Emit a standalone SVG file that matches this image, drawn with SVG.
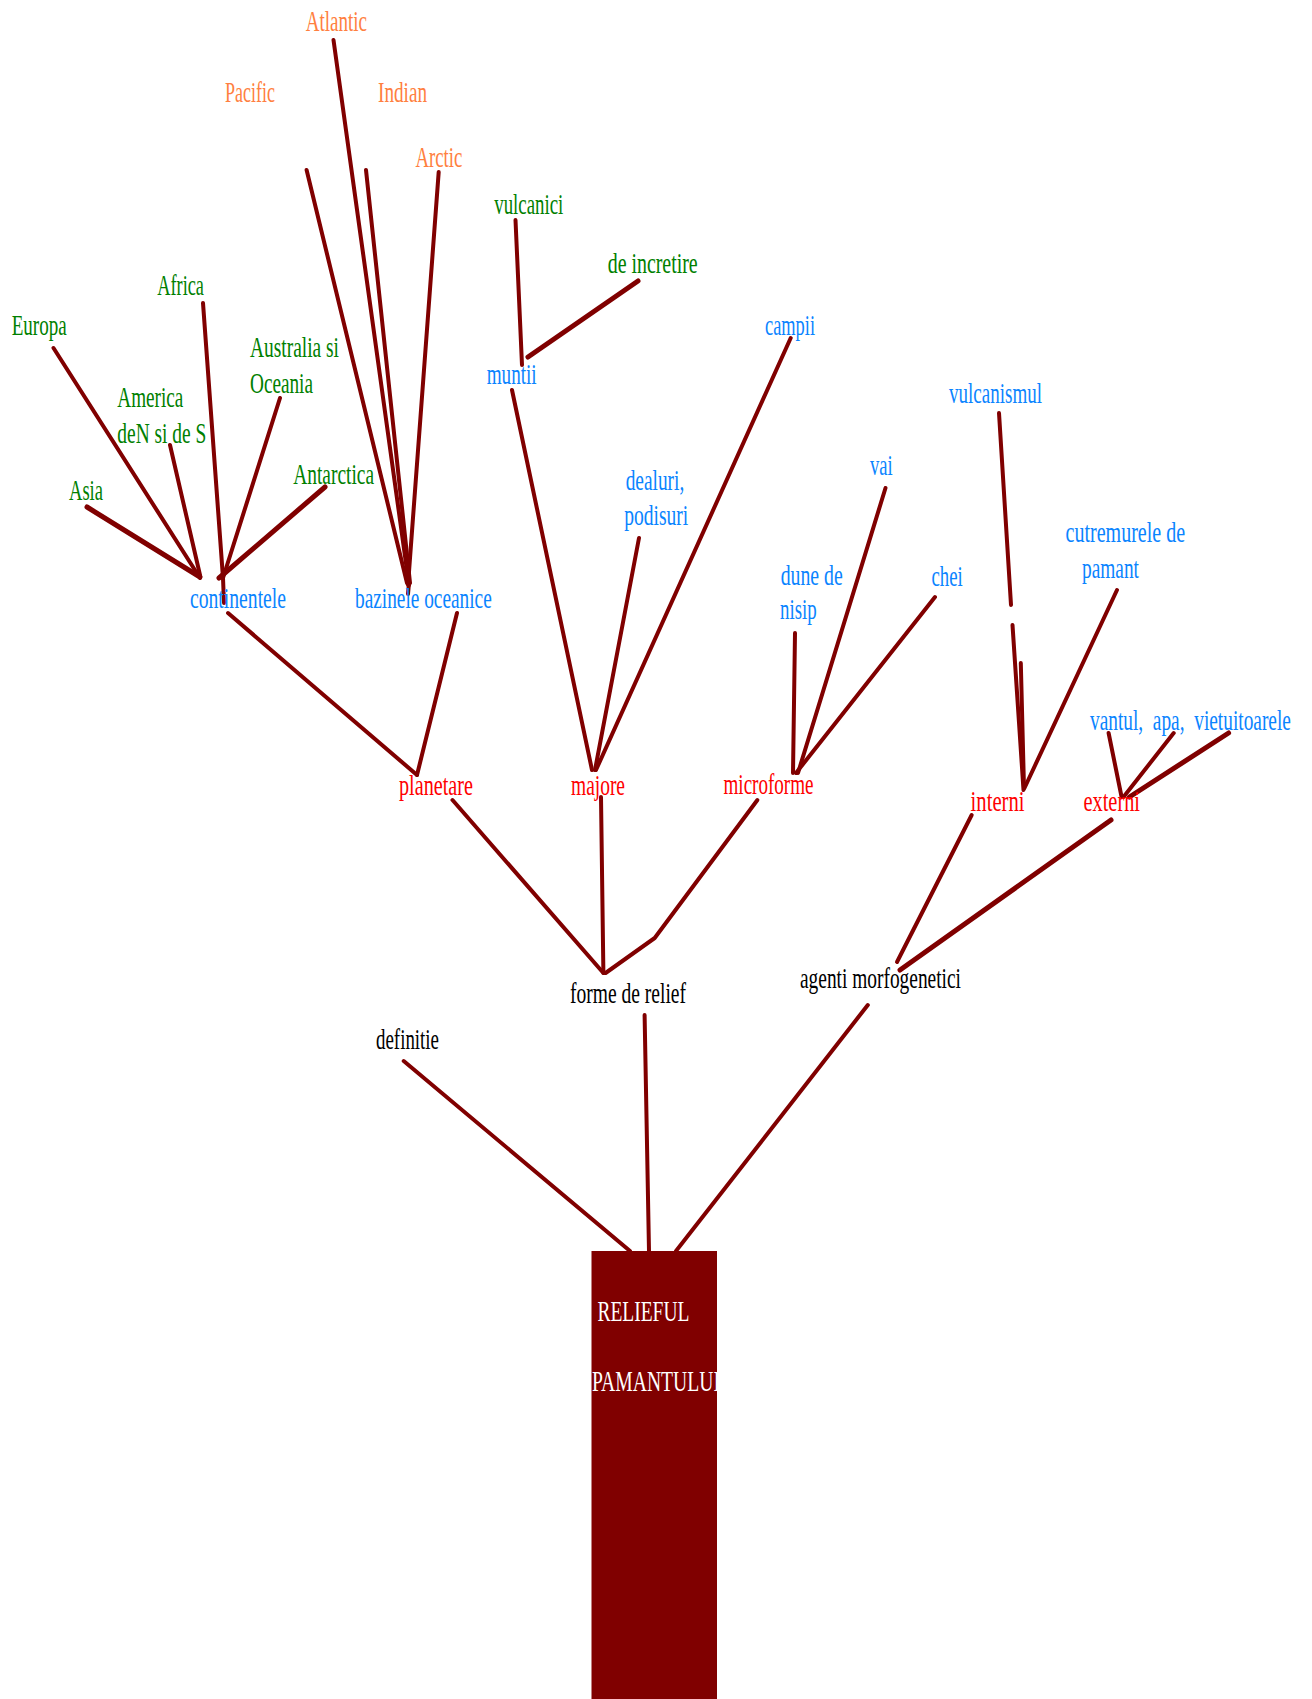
<svg xmlns="http://www.w3.org/2000/svg" width="1312" height="1699" viewBox="0 0 1312 1699">
<style>
text{font-family:"Liberation Serif","Times New Roman",serif;font-size:30px}
.o{fill:#FF7F40}.g{fill:#008000}.b{fill:#0A84FF}.r{fill:#FF0000}.k{fill:#000}.w{fill:#FFF}
.c path{fill:none;stroke:#800000;stroke-width:4;stroke-linecap:round;stroke-linejoin:round}
.c path.t{stroke-width:5}
</style>
<rect width="1312" height="1699" fill="#FFF"/>
<g id="connectors" class="c">
<path d="M333.5,40 L409,585"/>
<path d="M306.6,170 L407,583"/>
<path d="M366,170 L410,583"/>
<path d="M438.7,172 L408,585"/>
<path d="M409,583 L408,594"/>
<path d="M515.5,220 L522,365"/>
<path class="t" d="M638,281 L528,357"/>
<path d="M53.5,348 L200,578"/>
<path class="t" d="M87,507 L200,577"/>
<path d="M170,445 L200,575"/>
<path d="M203,303 L223,578"/>
<path d="M280,398 L223,578"/>
<path class="t" d="M325,487 L219,578"/>
<path d="M223,578 L224,603"/>
<path d="M228,613 L417,775"/>
<path d="M457,613 L417,775"/>
<path d="M512,390 L592,770"/>
<path d="M639,538 L595,770"/>
<path d="M790.7,338 L596,770"/>
<path d="M795,633 L793,773"/>
<path d="M885.5,488 L798,773"/>
<path d="M935,597 L796,773"/>
<path d="M999,413 L1011,605"/>
<path d="M1012.5,625 L1023.5,790"/>
<path d="M1020.8,663 L1024,788"/>
<path d="M1117,590 L1024.5,788"/>
<path d="M1108.6,733 L1121.6,797"/>
<path d="M1173.7,733 L1123.5,797"/>
<path class="t" d="M1228.6,733 L1129.4,797"/>
<path d="M452.5,800 L603.4,973"/>
<path d="M601,797 L603.4,973"/>
<path d="M757.4,800 L654.7,938 L605.6,973"/>
<path d="M971.7,815 L897,962"/>
<path class="t" d="M1111,820 L900,970"/>
<path d="M403.7,1061 L630,1251"/>
<path d="M644.6,1015 L649,1251"/>
<path d="M867.8,1005 L676,1251"/>
</g>
<g id="root">
<rect x="591.5" y="1251" width="125.5" height="448" fill="#800000"/>
<text class="w" x="597.4" y="1321" textLength="92" lengthAdjust="spacingAndGlyphs">RELIEFUL</text>
<text class="w" x="592" y="1391" textLength="128" lengthAdjust="spacingAndGlyphs">PAMANTULUI</text>
</g>
<g id="definitie"><text class="k" x="376" y="1049" textLength="63" lengthAdjust="spacingAndGlyphs">definitie</text></g>
<g id="forme"><text class="k" x="570" y="1003" textLength="116" lengthAdjust="spacingAndGlyphs">forme de relief</text></g>
<g id="agenti"><text class="k" x="800" y="988" textLength="161" lengthAdjust="spacingAndGlyphs">agenti morfogenetici</text></g>
<g id="planetare"><text class="r" x="399" y="795" textLength="74" lengthAdjust="spacingAndGlyphs">planetare</text></g>
<g id="majore"><text class="r" x="571" y="795" textLength="54" lengthAdjust="spacingAndGlyphs">majore</text></g>
<g id="microforme"><text class="r" x="723.5" y="794" textLength="90" lengthAdjust="spacingAndGlyphs">microforme</text></g>
<g id="interni"><text class="r" x="970.6" y="810.7" textLength="54" lengthAdjust="spacingAndGlyphs">interni</text></g>
<g id="externi"><text class="r" x="1083.5" y="810.7" textLength="56.5" lengthAdjust="spacingAndGlyphs">externi</text></g>
<g id="continentele"><text class="b" x="190" y="608" textLength="96" lengthAdjust="spacingAndGlyphs">continentele</text></g>
<g id="bazinele"><text class="b" x="355" y="608" textLength="136.7" lengthAdjust="spacingAndGlyphs">bazinele oceanice</text></g>
<g id="muntii"><text class="b" x="486.7" y="384" textLength="50" lengthAdjust="spacingAndGlyphs">muntii</text></g>
<g id="dealuri"><text class="b" x="625.7" y="490" textLength="58.6" lengthAdjust="spacingAndGlyphs">dealuri,</text><text class="b" x="624.3" y="525" textLength="64" lengthAdjust="spacingAndGlyphs">podisuri</text></g>
<g id="campii"><text class="b" x="765" y="335" textLength="50" lengthAdjust="spacingAndGlyphs">campii</text></g>
<g id="dune"><text class="b" x="780.7" y="585" textLength="62" lengthAdjust="spacingAndGlyphs">dune de</text><text class="b" x="780" y="619.3" textLength="36.7" lengthAdjust="spacingAndGlyphs">nisip</text></g>
<g id="vai"><text class="b" x="870" y="475" textLength="22.7" lengthAdjust="spacingAndGlyphs">vai</text></g>
<g id="chei"><text class="b" x="931.4" y="586" textLength="31.3" lengthAdjust="spacingAndGlyphs">chei</text></g>
<g id="vulcanismul"><text class="b" x="949" y="403.3" textLength="93" lengthAdjust="spacingAndGlyphs">vulcanismul</text></g>
<g id="cutremurele"><text class="b" x="1065.5" y="541.7" textLength="119.6" lengthAdjust="spacingAndGlyphs">cutremurele de</text><text class="b" x="1082" y="577.7" textLength="57" lengthAdjust="spacingAndGlyphs">pamant</text></g>
<g id="vantul"><text class="b" transform="translate(1090,730) scale(0.645,1)" xml:space="preserve">vantul,  apa,  vietuitoarele</text></g>
<g id="europa"><text class="g" x="11.7" y="335" textLength="55" lengthAdjust="spacingAndGlyphs">Europa</text></g>
<g id="africa"><text class="g" x="157.3" y="295" textLength="46.7" lengthAdjust="spacingAndGlyphs">Africa</text></g>
<g id="australia"><text class="g" x="250" y="357" textLength="89" lengthAdjust="spacingAndGlyphs">Australia si</text><text class="g" x="250" y="392.7" textLength="63" lengthAdjust="spacingAndGlyphs">Oceania</text></g>
<g id="america"><text class="g" x="117.3" y="406.7" textLength="66" lengthAdjust="spacingAndGlyphs">America</text><text class="g" x="117.3" y="442.7" textLength="89" lengthAdjust="spacingAndGlyphs">deN si de S</text></g>
<g id="asia"><text class="g" x="69" y="500" textLength="34" lengthAdjust="spacingAndGlyphs">Asia</text></g>
<g id="antarctica"><text class="g" x="293.3" y="484" textLength="80.7" lengthAdjust="spacingAndGlyphs">Antarctica</text></g>
<g id="vulcanici"><text class="g" x="494.3" y="214.3" textLength="69" lengthAdjust="spacingAndGlyphs">vulcanici</text></g>
<g id="incretire"><text class="g" x="607.7" y="272.7" textLength="90" lengthAdjust="spacingAndGlyphs">de incretire</text></g>
<g id="atlantic"><text class="o" x="305.7" y="30.7" textLength="61.3" lengthAdjust="spacingAndGlyphs">Atlantic</text></g>
<g id="pacific"><text class="o" x="225" y="102.3" textLength="50" lengthAdjust="spacingAndGlyphs">Pacific</text></g>
<g id="indian"><text class="o" x="378" y="102.3" textLength="49" lengthAdjust="spacingAndGlyphs">Indian</text></g>
<g id="arctic"><text class="o" x="415.4" y="166.7" textLength="47" lengthAdjust="spacingAndGlyphs">Arctic</text></g>
</svg>
